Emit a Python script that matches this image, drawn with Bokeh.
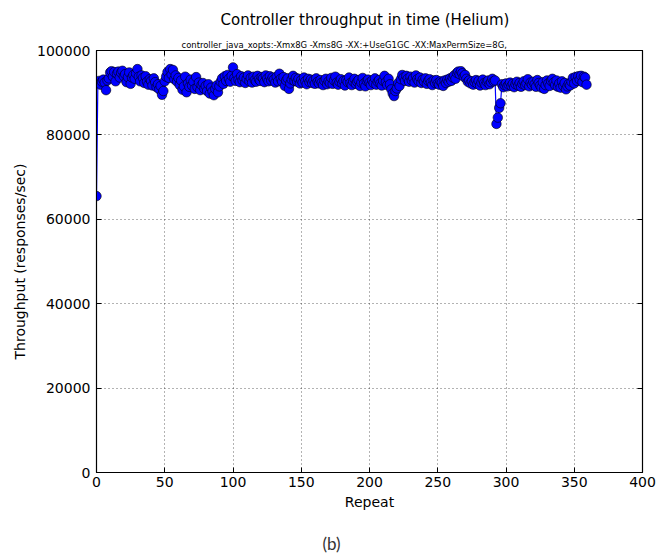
from bokeh.plotting import figure
from bokeh.models import (Range1d, FixedTicker, NumeralTickFormatter, LinearAxis, Title)
from bokeh.embed import file_html
from bokeh.resources import INLINE

title_text = "Controller throughput in time (Helium)"
subtitle_text = "controller_java_xopts:-Xmx8G -Xms8G -XX:+UseG1GC -XX:MaxPermSize=8G,"
caption_text = "(b)"
x_label = "Repeat"
y_label = "Throughput (responses/sec)"
x_ticks = [0, 50, 100, 150, 200, 250, 300, 350, 400]
y_ticks = [0, 20000, 40000, 60000, 80000, 100000]

throughput = [
    65500, 92300, 92800, 91900, 92600, 93100, 92400, 90600, 92900, 93400,
    94800, 95100, 93800, 94900, 92700, 94500, 95000, 93600, 94700, 95200,
    93900, 94400, 92500, 93700, 94800, 92100, 93600, 94200, 93300, 94600,
    95600, 93800, 92700, 94100, 93500, 92300, 93900, 92600, 91900, 93200,
    92800, 91700, 93400, 92500, 91300, 92000, 90800, 91600, 89500, 90400,
    92700, 93800, 94900, 93500, 95600, 94300, 95400, 93200, 94100, 92600,
    93500, 91800, 92900, 90700, 91500, 93800, 90100, 92200, 91400, 93100,
    91700, 92600, 90900, 93700, 91300, 92400, 90600, 91800, 92300, 90900,
    91600, 90400, 92000, 89800, 91200, 90300, 89400, 90900, 91700, 90100,
    91500, 92600, 93400, 92100, 93900, 92800, 94200, 93300, 92600, 94000,
    96000, 93500, 92800, 94400, 93100, 92500, 93900, 92900, 93600, 92300,
    93300, 94100, 92700, 93500, 92400, 93800, 93000, 92600, 94000, 93200,
    92800, 93700, 93400, 92500, 94100, 93300, 92700, 93900, 92900, 93600,
    93100, 92400, 93800, 92700, 94500, 93300, 92600, 93700, 91600, 92900,
    93400, 90900, 92200, 93100, 94000, 92800, 93500, 92600, 93300, 92200,
    93000, 92400, 93600, 92700, 92000, 93300, 92500, 93100, 92300, 92900,
    92100, 93400, 92600, 92200, 93000, 92400, 91800, 92800, 93300, 92000,
    92700, 92300, 93500, 92100, 92900, 93800, 92400, 91900, 92600, 93200,
    92200, 92800, 91700, 93000, 92500, 93600, 92300, 91800, 92700, 93300,
    92100, 92600, 93000, 91600, 92400, 93500, 92200, 91500, 92800, 93100,
    92400, 91800, 92900, 92300, 93400, 91900, 92600, 93000, 92200, 91700,
    92800, 94000, 92500, 91800, 93300, 92000, 90800, 89800, 89200, 90400,
    91000, 92300, 91600, 93200, 94200, 93600, 92800, 94000, 93300, 92600,
    93800, 92900, 93500, 92400, 94100, 93200, 92700, 93600, 92300, 93100,
    92600, 93400, 92100, 92800, 93200, 92400, 91800, 92900, 92300, 93000,
    92200, 91900, 92700, 92400, 91600, 92900, 92300, 93100, 92600, 93400,
    92800, 93600, 94100, 93300, 94700, 95000, 94400, 95100, 94600, 93800,
    94200, 93300, 92600, 92900, 92200, 92700, 91900, 92500, 93000, 92100,
    92800, 91700, 92400, 93100, 92300, 91800, 92600, 92900, 92000, 92500,
    93300, 92700, 92900, 82600, 84100, 86400, 87500, 92000, 91300, 91800,
    92200, 91500, 91900, 92400, 91600, 92100, 91300, 92000, 92600, 91700,
    92300, 91400, 92100, 92700, 91800, 92200, 93200, 91500, 92400, 91900,
    92600, 92000, 91400, 93000, 92300, 91700, 91200, 92500, 90900, 91800,
    92900, 92200, 91600, 92800, 93300, 92400, 91800, 92900, 91400, 92200,
    91200, 92700, 91600, 92300, 90800, 91500, 92100, 91700, 92600, 93500,
    92200, 93700, 92800, 93900, 93100, 94000, 92500, 93800, 93600, 91900,
]
repeat = list(range(len(throughput)))

FONT = "DejaVu Sans"

p = figure(width=667, height=556, output_backend="svg", toolbar_location=None,
           title=None, x_range=Range1d(0, 400), y_range=Range1d(0, 100000),
           min_border_left=96, min_border_right=25, min_border_top=50,
           min_border_bottom=84, background_fill_color="white",
           border_fill_color="white")
p.outline_line_color = "black"
p.outline_line_width = 1.2

for ax in (p.xaxis[0], p.yaxis[0]):
    ax.major_tick_in = 5
    ax.major_tick_out = 0
    ax.minor_tick_line_color = None
    ax.axis_line_color = "black"
    ax.major_tick_line_color = "black"
    ax.major_label_text_font = FONT
    ax.major_label_text_font_size = "14px"
    ax.major_label_text_color = "black"
    ax.axis_label_text_font = FONT
    ax.axis_label_text_font_size = "14px"
    ax.axis_label_text_font_style = "normal"
    ax.axis_label_text_color = "black"

p.xaxis[0].ticker = FixedTicker(ticks=x_ticks)
p.yaxis[0].ticker = FixedTicker(ticks=y_ticks)
p.yaxis[0].formatter = NumeralTickFormatter(format="0")
p.xaxis[0].axis_label = x_label
p.yaxis[0].axis_label = y_label
p.xaxis[0].major_label_standoff = 4
p.yaxis[0].major_label_standoff = 6
p.xaxis[0].axis_label_standoff = 4
p.yaxis[0].axis_label_standoff = 6

top = LinearAxis(ticker=FixedTicker(ticks=x_ticks),
                 major_label_overrides={t: "" for t in x_ticks},
                 major_label_standoff=0,
                 major_tick_in=5, major_tick_out=0, minor_tick_line_color=None,
                 axis_line_color="black")
right = LinearAxis(ticker=FixedTicker(ticks=y_ticks),
                   major_label_overrides={t: "" for t in y_ticks},
                   major_label_standoff=0,
                   major_tick_in=5, major_tick_out=0, minor_tick_line_color=None,
                   axis_line_color="black")
p.add_layout(top, "above")
p.add_layout(right, "right")

# invisible spacer axis between the x axis and the caption
spacer = LinearAxis(ticker=FixedTicker(ticks=[200]), major_label_overrides={200: ""},
                    axis_line_color=None, major_tick_line_color=None,
                    minor_tick_line_color=None, major_tick_in=0, major_tick_out=17,
                    major_label_standoff=0)
p.add_layout(spacer, "below")

p.add_layout(Title(text=subtitle_text, align="left", offset=85,
                   text_font="DejaVu Sans Condensed",
                   text_font_size="9.4px", text_font_style="normal",
                   text_color="black", standoff=2), "above")
p.add_layout(Title(text=title_text, align="left", offset=124, text_font=FONT,
                   text_font_size="15px", text_font_style="normal",
                   vertical_align="top",
                   text_color="black", standoff=10), "above")
p.add_layout(Title(text=caption_text, align="left", offset=226, text_font="Lato",
                   text_font_size="17px", text_font_style="normal",
                   text_color="#333333", standoff=2), "below")

p.grid.grid_line_color = "black"
p.grid.grid_line_alpha = 0.6
p.grid.grid_line_dash = "1 3"
p.grid.grid_line_width = 1
p.xgrid.ticker = FixedTicker(ticks=x_ticks)
p.ygrid.ticker = FixedTicker(ticks=y_ticks)

p.line(repeat, throughput, line_color="blue", line_width=1.2)
p.scatter(repeat, throughput, size=9.5, fill_color="blue", line_color="black",
          line_width=0.6)

open("out.html", "w").write(file_html(p, INLINE))
